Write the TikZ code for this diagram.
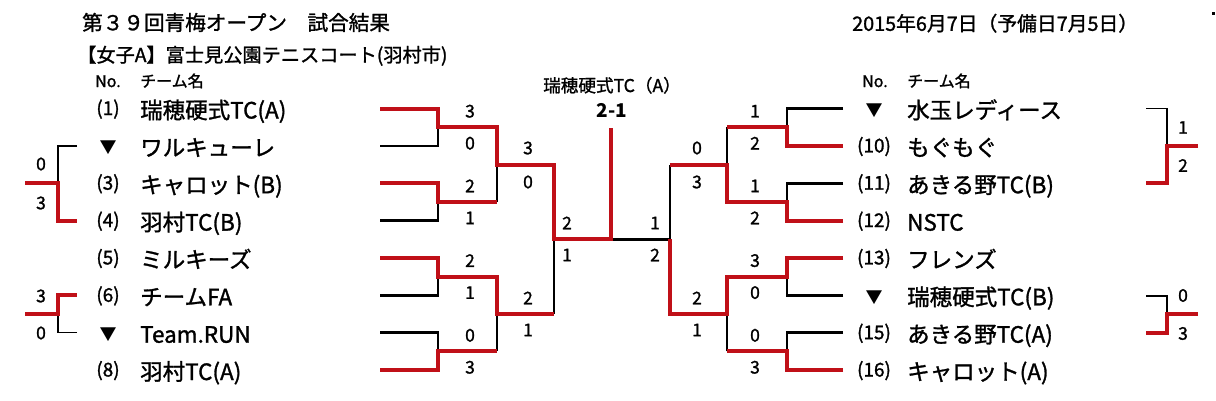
\documentclass[tikz,border=0pt]{standalone}
\usepackage{fontspec}
\setmainfont{Noto Sans CJK JP}
\newfontfamily\tf[FakeBold=1.3]{Noto Sans CJK JP}
\definecolor{bred}{RGB}{192,16,24}
\tikzset{
  blk/.style={line width=2.6pt, black},
  rd/.style={line width=4pt, bred},
  thinblk/.style={line width=1.4pt, black},
  team/.style={anchor=base west, inner sep=0pt, font=\tf\fontsize{22.5}{24}\selectfont},
  tno/.style={anchor=base, inner sep=0pt, font=\tf\fontsize{19}{20}\selectfont},
  tri/.style={anchor=base, inner sep=0pt, font=\fontsize{17}{18}\selectfont},
  score/.style={anchor=center, inner sep=0pt, font=\tf\fontsize{17.5}{18}\selectfont},
  head/.style={anchor=base west, inner sep=0pt, font=\tf\fontsize{16}{17}\selectfont},
}
\begin{document}
\begin{tikzpicture}[x=1pt,y=-1pt]
\useasboundingbox (0,0) rectangle (1216,400);

% ---------- coordinates ----------
\foreach \i/\y in {1/108.5,2/145.9,3/183.2,4/220.6,5/257.9,6/295.3,7/332.7,8/370.0}{
  \coordinate (tL\i) at (380,\y);
  \coordinate (tR\i) at (843,\y);
}
\coordinate (jL12) at (438,127.2);
\coordinate (jL34) at (438,201.9);
\coordinate (jL56) at (438,276.6);
\coordinate (jL78) at (438,351.3);
\coordinate (jR12) at (787,127.2);
\coordinate (jR34) at (787,201.9);
\coordinate (jR56) at (787,276.6);
\coordinate (jR78) at (787,351.3);
\coordinate (kL1) at (497,164.6);
\coordinate (kL2) at (497,313.9);
\coordinate (kR1) at (727,164.6);
\coordinate (kR2) at (727,313.9);
\coordinate (sL) at (554,239.3);
\coordinate (sR) at (670,239.3);
\coordinate (c) at (611,239.3);
\coordinate (ctop) at (611,128);

% ---------- black (losing) lines ----------
\draw[blk] (tL2) -| (jL12);
\draw[blk] (tL4) -| (jL34);
\draw[blk] (jL34 -| kL1) -- (kL1);
\draw[blk] (tL6) -| (jL56);
\draw[blk] (tL7) -| (jL78);
\draw[blk] (jL78 -| kL2) -- (kL2);
\draw[blk] (kL2 -| sL) -- (sL);
\draw[blk] (c) -- (sR);
\draw[blk] (tR1) -| (jR12);
\draw[blk] (jR12 -| kR1) -- (kR1);
\draw[blk] (tR3) -| (jR34);
\draw[blk] (kR1 -| sR) -- (sR);
\draw[blk] (tR6) -| (jR56);
\draw[blk] (tR7) -| (jR78);
\draw[blk] (jR78 -| kR2) -- (kR2);

% ---------- red (winning) lines ----------
\draw[rd] (tL1) -| (jL12) -| (kL1) -| (sL) -| (ctop);
\draw[rd] (tL3) -| (jL34) -- (jL34 -| kL1);
\draw[rd] (tL5) -| (jL56) -| (kL2) -- (kL2 -| sL);
\draw[rd] (tL8) -| (jL78) -- (jL78 -| kL2);
\draw[rd] (tR2) -| (jR12) -- (jR12 -| kR1);
\draw[rd] (tR4) -| (jR34) -| (kR1) -- (kR1 -| sR);
\draw[rd] (tR5) -| (jR56) -| (kR2) -| (sR);
\draw[rd] (tR8) -| (jR78) -- (jR78 -| kR2);

% ---------- side brackets ----------
\coordinate (pa0) at (25,183.2);  \coordinate (pa1) at (77,145.9);
\coordinate (pa2) at (58,183.2);  \coordinate (pa3) at (77,220.6);
\draw[thinblk] (pa1) -| (pa2);
\draw[rd] (pa0) -- (pa2) |- (pa3);
\coordinate (pb0) at (25,314);    \coordinate (pb1) at (77,295.3);
\coordinate (pb2) at (58,314);    \coordinate (pb3) at (77,332.7);
\draw[thinblk] (pb3) -| (pb2);
\draw[rd] (pb0) -- (pb2) |- (pb1);
\coordinate (pc0) at (1198,145.9); \coordinate (pc1) at (1146,108.5);
\coordinate (pc2) at (1167,145.9); \coordinate (pc3) at (1146,183.2);
\draw[thinblk] (pc1) -| (pc2);
\draw[rd] (pc0) -- (pc2) |- (pc3);
\coordinate (pd0) at (1198,313.9); \coordinate (pd1) at (1146,295.8);
\coordinate (pd2) at (1167,313.9); \coordinate (pd3) at (1146,332.5);
\draw[thinblk] (pd1) -| (pd2);
\draw[rd] (pd0) -- (pd2) |- (pd3);

\node[score] (sa1) at (41,164) {0};
\node[score] (sa2) at (41,203) {3};
\node[score] (sb1) at (41,296) {3};
\node[score] (sb2) at (41,333) {0};
\node[score] (sc1) at (1183,127.5) {1};
\node[score] (sc2) at (1183,165.5) {2};
\node[score] (sd1) at (1183,295.5) {0};
\node[score] (sd2) at (1183,333.5) {3};

% ---------- headings ----------
\node[anchor=base west, inner sep=0pt, font=\tf\fontsize{20.6}{22}\selectfont] (title) at (82,30.3) {第３９回青梅オープン　試合結果};
\node[anchor=base west, inner sep=0pt, font=\tf\fontsize{19.2}{20}\selectfont] (sub) at (77,62) {【女子A】富士見公園テニスコート(羽村市)};
\node[anchor=base west, inner sep=0pt, font=\tf\fontsize{19.8}{20}\selectfont] (date) at (852,30.8) {2015年6月7日（予備日7月5日）};
\fill (1212,12) rectangle (1214.5,14.5);

\node[head] (noL) at (95,87) {No.};
\node[head] (nmL) at (140,87) {チーム名};
\node[head] (noR) at (862,87) {No.};
\node[head] (nmR) at (907,87) {チーム名};

% ---------- champion ----------
\node[anchor=base, inner sep=0pt, font=\tf\fontsize{17.6}{18}\selectfont] (champ) at (612,92) {瑞穂硬式TC（A）};
\node[anchor=base, inner sep=0pt, font=\fontsize{19}{20}\selectfont\bfseries] (final) at (612,117.5) {2-1};

% ---------- left teams ----------
\node[tno] (nL1) at (108,115)   {(1)};
\node[tri] (nL2) at (108,153.9) {▼};
\node[tno] (nL3) at (108,189.7) {(3)};
\node[tno] (nL4) at (108,227.1) {(4)};
\node[tno] (nL5) at (108,264.4) {(5)};
\node[tno] (nL6) at (108,301.8) {(6)};
\node[tri] (nL7) at (108,340.7) {▼};
\node[tno] (nL8) at (108,376.5) {(8)};

\node[team] (mL1) at (140,118.5) {瑞穂硬式TC(A)};
\node[team] (mL2) at (140,155.9) {ワルキューレ};
\node[team] (mL3) at (140,193.2) {キャロット(B)};
\node[team] (mL4) at (140,230.6) {羽村TC(B)};
\node[team] (mL5) at (140,267.9) {ミルキーズ};
\node[team] (mL6) at (140,305.3) {チームFA};
\node[team] (mL7) at (140,342.7) {Team.RUN};
\node[team] (mL8) at (140,380.0) {羽村TC(A)};

% ---------- right teams ----------
\node[tri] (nR1) at (874,116.5) {▼};
\node[tno] (nR2) at (874,152.4) {(10)};
\node[tno] (nR3) at (874,189.7) {(11)};
\node[tno] (nR4) at (874,227.1) {(12)};
\node[tno] (nR5) at (874,264.4) {(13)};
\node[tri] (nR6) at (874,303.3) {▼};
\node[tno] (nR7) at (874,339.2) {(15)};
\node[tno] (nR8) at (874,376.5) {(16)};

\node[team] (mR1) at (907,118.5) {水玉レディース};
\node[team] (mR2) at (907,155.9) {もぐもぐ};
\node[team] (mR3) at (907,193.2) {あきる野TC(B)};
\node[team] (mR4) at (907,230.6) {NSTC};
\node[team] (mR5) at (907,267.9) {フレンズ};
\node[team] (mR6) at (907,305.3) {瑞穂硬式TC(B)};
\node[team] (mR7) at (907,342.7) {あきる野TC(A)};
\node[team] (mR8) at (907,380.0) {キャロット(A)};

% ---------- scores ----------
\node[score] (a1) at (470,111.2) {3};
\node[score] (a2) at (470,143.2) {0};
\node[score] (a3) at (470,185.9) {2};
\node[score] (a4) at (470,217.9) {1};
\node[score] (a5) at (470,260.6) {2};
\node[score] (a6) at (470,292.6) {1};
\node[score] (a7) at (470,335.3) {0};
\node[score] (a8) at (470,367.3) {3};
\node[score] (b1) at (528,148) {3};
\node[score] (b2) at (528,182) {0};
\node[score] (b3) at (528,298) {2};
\node[score] (b4) at (528,330) {1};
\node[score] (c1) at (567,223) {2};
\node[score] (c2) at (567,255) {1};
\node[score] (d1) at (655,223) {1};
\node[score] (d2) at (655,255) {2};
\node[score] (e1) at (697,148) {0};
\node[score] (e2) at (697,182) {3};
\node[score] (e3) at (697,298) {2};
\node[score] (e4) at (697,330) {1};
\node[score] (f1) at (755,111.2) {1};
\node[score] (f2) at (755,143.2) {2};
\node[score] (f3) at (755,185.9) {1};
\node[score] (f4) at (755,217.9) {2};
\node[score] (f5) at (755,260.6) {3};
\node[score] (f6) at (755,292.6) {0};
\node[score] (f7) at (755,335.3) {0};
\node[score] (f8) at (755,367.3) {3};
\end{tikzpicture}
\end{document}
